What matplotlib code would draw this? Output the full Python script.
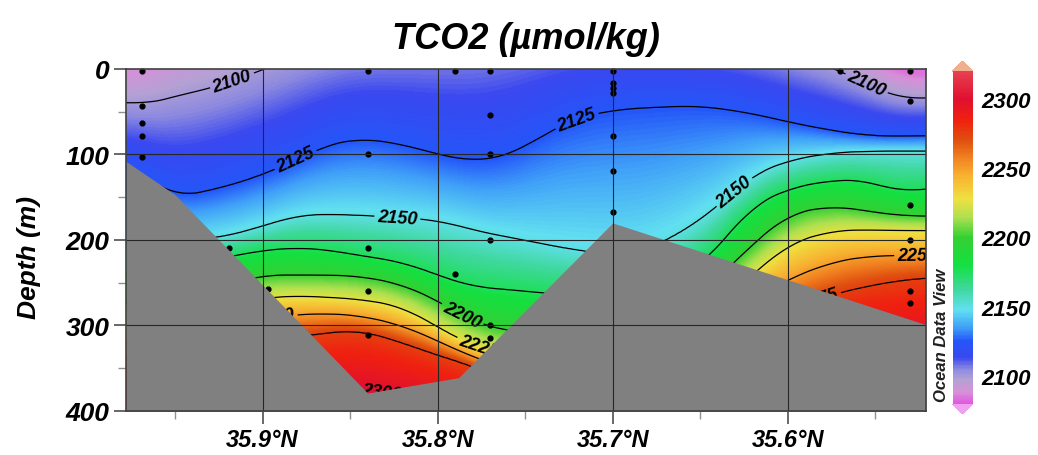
import numpy as np
import matplotlib
matplotlib.use("Agg")
import matplotlib.pyplot as plt
from matplotlib.colors import LinearSegmentedColormap, Normalize

plt.rcParams['font.family'] = ['Liberation Sans', 'DejaVu Sans']

# latitude columns where the isoline depths were read (deg N)
col_lat = [35.978, 35.97, 35.95, 35.925, 35.90, 35.88, 35.865, 35.845, 35.82, 35.80,
           35.78, 35.765, 35.75, 35.74, 35.72, 35.70, 35.68, 35.65, 35.62, 35.60,
           35.575, 35.555, 35.535, 35.521]

# TCO2 isolines (umol/kg) and their depth (m) at each column
levels = [2100, 2125, 2150, 2175, 2200, 2225, 2250, 2275, 2300]
iso_2100 = [38, 43, 32, 20, 1, -15, -25, -35, -40, -45, -50, -55, -60, -60, -60, -60,
            -60, -50, -35, -20, -2, 17, 36, 33]
iso_2125 = [118, 122, 150, 140, 124, 106, 90, 81, 88, 100, 108, 104, 92, 77, 57, 48,
            45, 43, 52, 62, 72, 78, 79, 78]
iso_2150 = [205, 203, 200, 198, 184, 171, 170, 171, 174, 177, 188, 195, 200, 205, 212, 218,
            212, 178, 124, 107, 98, 96, 96, 96]
iso_2175 = [240, 238, 232, 222, 212, 209, 211, 218, 226, 241, 255, 257, 260, 262, 265, 265,
            255, 232, 160, 140, 130, 130, 145, 139]
iso_2200 = [275, 272, 265, 255, 241, 241, 241, 242, 252, 271, 295, 305, 308, 310, 312, 310,
            295, 265, 205, 170, 160, 166, 172, 172]
iso_2225 = [300, 298, 292, 280, 268, 265, 267, 269, 278, 302, 324, 332, 335, 337, 339, 337,
            320, 290, 241, 205, 189, 188, 189, 189]
iso_2250 = [320, 318, 312, 302, 292, 287, 286, 288, 300, 318, 337, 347, 352, 354, 357, 357,
            340, 310, 270, 246, 226, 219, 218, 218]
iso_2275 = [340, 338, 332, 325, 318, 313, 309, 305, 320, 335, 347, 362, 370, 374, 377, 377,
            365, 335, 300, 282, 264, 254, 247, 244]
iso_2300 = [390, 388, 385, 382, 380, 377, 375, 374, 381, 390, 400, 408, 412, 414, 417, 417,
            405, 380, 345, 325, 318, 318, 320, 322]

# bottom topography
floor_lat = [35.978, 35.95, 35.84, 35.788, 35.70, 35.521]
floor_depth = [108, 147, 379, 361, 180, 299]

# sample positions
sta_lat = [35.969] * 5 + [35.919, 35.897] + [35.84] * 5 + [35.79] * 2 + [35.77] * 6 \
    + [35.70] * 7 + [35.57] + [35.53] * 6
sta_depth = [2, 43, 63, 78, 103, 209, 257, 2, 100, 209, 260, 311, 2, 240,
             2, 54, 100, 200, 299, 315, 2, 16, 22, 28, 78, 119, 167, 2,
             2, 37, 159, 200, 260, 274]

# where the isoline labels sit (lat, depth)
label_pos = [(35.917, 16), (35.881, 107), (35.721, 57), (35.823, 174), (35.631, 143),
             (35.555, 17), (35.786, 288), (35.893, 291), (35.777, 327), (35.832, 378),
             (35.526, 218), (35.582, 270)]

lat_ticks = [35.9, 35.8, 35.7, 35.6]
lat_labels = ["35.9°N", "35.8°N", "35.7°N", "35.6°N"]
depth_ticks = [0, 100, 200, 300, 400]
cbar_ticks = [2100, 2150, 2200, 2250, 2300]

# ODV style palette
odv = LinearSegmentedColormap.from_list("odv", [
    (0.000, "#e058e0"), (0.033, "#d890d8"), (0.071, "#b4a2d4"), (0.104, "#8a88e0"),
    (0.138, "#3a48f0"), (0.188, "#2456f8"), (0.229, "#40a0f8"), (0.283, "#62e0f0"),
    (0.342, "#40d8a0"), (0.417, "#14e040"), (0.500, "#34d034"), (0.562, "#b0e050"),
    (0.617, "#f0e040"), (0.688, "#f8b030"), (0.742, "#f08020"), (0.792, "#e05010"),
    (0.854, "#f02010"), (0.917, "#e01030"), (1.000, "#e84050")])
odv.set_under("#f0a0f0")
odv.set_over("#f0b090")
norm = Normalize(2080, 2320)

# build the section field from the isolines
lat_f = np.linspace(35.521, 35.978, 400)
z_f = np.linspace(0, 400, 401)
iso = np.array([iso_2100, iso_2125, iso_2150, iso_2175, iso_2200, iso_2225,
                iso_2250, iso_2275, iso_2300], dtype=float)
xp = np.array(col_lat)[::-1]
D = np.array([np.interp(lat_f, xp, d[::-1]) for d in iso])
k = np.ones(25) / 25
D = np.array([np.convolve(np.pad(d, 12, mode="edge"), k, mode="valid") for d in D])
lv = np.array(levels, dtype=float)

field = np.empty((len(z_f), len(lat_f)))
for j in range(len(lat_f)):
    zk = D[:, j]
    v = np.interp(z_f, zk, lv)
    lo = z_f < zk[0]
    v[lo] = lv[0] + (z_f[lo] - zk[0]) * (lv[1] - lv[0]) / (zk[1] - zk[0])
    hi = z_f > zk[-1]
    v[hi] = lv[-1] + (z_f[hi] - zk[-1]) * (lv[-1] - lv[-2]) / (zk[-1] - zk[-2])
    field[:, j] = v
field = np.clip(field, 2084, 2315)

fig = plt.figure(figsize=(10.38, 4.56), dpi=100)
ax = fig.add_axes([0.1214, 0.0965, 0.7707, 0.75])

mesh = ax.pcolormesh(lat_f, z_f, field, cmap=odv, norm=norm, shading="gouraud", zorder=1)
cs = ax.contour(lat_f, z_f, field, levels=levels, colors="k", linewidths=0.9, zorder=1.5)
labels = ax.clabel(cs, manual=label_pos, fmt="%d", fontsize=13, inline=True, inline_spacing=3)
for t in labels:
    t.set_fontweight("bold")
    t.set_fontstyle("italic")
    t.set_zorder(1.6)
    t.set_clip_on(True)
    t.set_clip_box(ax.bbox)

ax.scatter(sta_lat, sta_depth, s=12, c="k", zorder=1.8, clip_on=False)
ax.fill_between(floor_lat, floor_depth, 420, color="#808080", lw=0, zorder=2)

for v in lat_ticks:
    ax.axvline(v, color="#262626", lw=0.8, zorder=4)
for d in depth_ticks[1:-1]:
    ax.axhline(d, color="#262626", lw=0.8, zorder=4)

ax.set_xlim(35.978, 35.521)
ax.set_ylim(400, 0)
ax.set_xticks(lat_ticks)
ax.set_xticklabels(lat_labels)
ax.set_xticks([35.95, 35.85, 35.75, 35.65, 35.55], minor=True)
ax.set_yticks(depth_ticks)
ax.set_yticks([50, 150, 250, 350], minor=True)
ax.tick_params(which="major", length=9, width=1.1, color="#404040", pad=3)
ax.tick_params(which="minor", length=6, width=1.0, color="#909090")
ax.tick_params(axis="x", labelsize=17)
ax.tick_params(axis="y", labelsize=19)
for lab in ax.get_xticklabels() + ax.get_yticklabels():
    lab.set_fontweight("bold")
    lab.set_fontstyle("italic")
for sp in ax.spines.values():
    sp.set_color("#404040")
    sp.set_linewidth(1.2)
    sp.set_zorder(5)

ax.set_ylabel("Depth (m)", fontsize=19, fontweight="bold", fontstyle="italic")
ax.yaxis.set_label_coords(-0.106, 0.453)
ax.set_title("TCO2 (µmol/kg)", fontsize=26, fontweight="bold", fontstyle="italic", pad=15)

cax = fig.add_axes([0.918, 0.09, 0.019, 0.774])
cb = fig.colorbar(mesh, cax=cax, extend="both", extendfrac=0.03, ticks=cbar_ticks)
cb.outline.set_visible(False)
cax.tick_params(length=0, pad=6, labelsize=16)
for lab in cax.get_yticklabels():
    lab.set_fontweight("bold")
    lab.set_fontstyle("italic")

fig.text(0.9075, 0.265, "Ocean Data View", rotation=90, ha="center", va="center",
         fontsize=12, fontweight="bold", fontstyle="italic", color="#202020")

fig.savefig("out.png", dpi=100)
